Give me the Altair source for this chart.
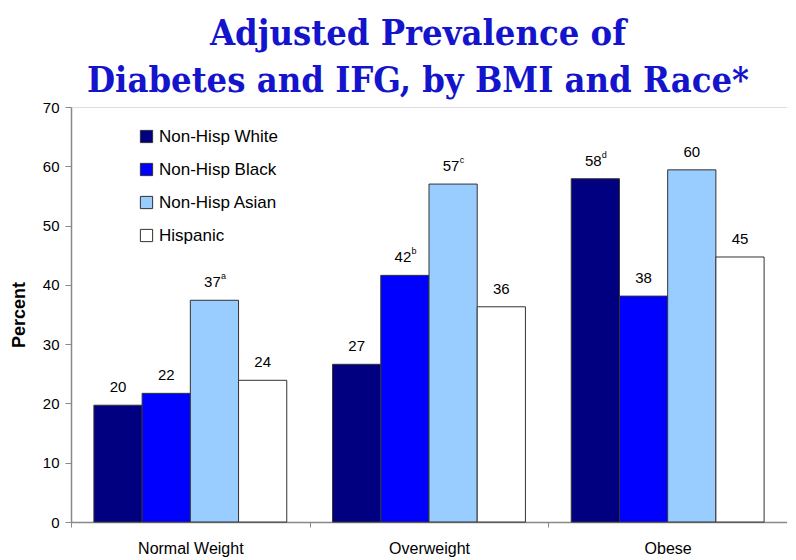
import altair as alt
import pandas as pd

categories = ["Normal Weight", "Overweight", "Obese"]
races = ["Non-Hisp White", "Non-Hisp Black", "Non-Hisp Asian", "Hispanic"]
colors = ["#000080", "#0000FF", "#99CCFF", "#FFFFFF"]

normal_vals = [19.7, 21.7, 37.4, 23.9]
over_vals = [26.6, 41.6, 57.0, 36.3]
obese_vals = [57.9, 38.1, 59.4, 44.7]

normal_labels = ["20", "22", "37", "24"]
over_labels = ["27", "42", "57", "36"]
obese_labels = ["58", "38", "60", "45"]

normal_sup = ["", "", "a", ""]
over_sup = ["", "b", "c", ""]
obese_sup = ["d", "", "", ""]

title_lines = ["Adjusted Prevalence of", "Diabetes and IFG, by BMI and Race*"]

rows = []
for cat, vals, labs, sups in [
    (categories[0], normal_vals, normal_labels, normal_sup),
    (categories[1], over_vals, over_labels, over_sup),
    (categories[2], obese_vals, obese_labels, obese_sup),
]:
    for r, v, l, s in zip(races, vals, labs, sups):
        rows.append({"bmi": cat, "race": r, "value": v, "label": l, "sup": s})
df = pd.DataFrame(rows)

W, H = 716, 415
FONT = "Liberation Sans"
TFONT = "DejaVu Serif Condensed, Liberation Serif"

x = alt.X("bmi:N", sort=categories, title=None,
          scale=alt.Scale(paddingInner=0, paddingOuter=0),
          axis=alt.Axis(labelAngle=0, labelFontSize=16, labelFont=FONT, labelColor="black",
                        labelPadding=13, tickBand="extent", tickSize=5, tickColor="#888",
                        domainColor="#888", domainWidth=1.5))
xo = alt.XOffset("race:N", sort=races, scale=alt.Scale(paddingOuter=0.475, paddingInner=0))
y = alt.Y("value:Q", title="Percent",
          scale=alt.Scale(domain=[0, 70], nice=False),
          axis=alt.Axis(values=list(range(0, 71, 10)), grid=False, labelFontSize=15,
                        labelFont=FONT, labelColor="black", labelPadding=6, tickSize=6,
                        tickColor="#888", domainColor="#888", domainWidth=1.5,
                        titleFont=FONT, titleFontSize=18, titleFontWeight="bold",
                        titleColor="black", titlePadding=14))

bars = alt.Chart(df).mark_bar(stroke="#333", strokeWidth=1).encode(
    x=x, xOffset=xo, y=y,
    color=alt.Color("race:N", sort=races, title=None,
                    scale=alt.Scale(domain=races, range=colors),
                    legend=alt.Legend(orient="none", legendX=67, legendY=21,
                                      symbolType="square", symbolSize=150,
                                      symbolStrokeColor="#333", symbolStrokeWidth=1,
                                      labelFont=FONT, labelFontSize=17, labelColor="black",
                                      labelOffset=4, rowPadding=15, padding=0)),
)

lab_plain = alt.Chart(df).transform_filter("datum.sup == ''").mark_text(
    font=FONT, fontSize=15, color="black", baseline="alphabetic", dy=-13
).encode(x=alt.X("bmi:N", sort=categories), xOffset=alt.XOffset("race:N", sort=races),
         y="value:Q", text="label:N")

lab_sup_main = alt.Chart(df).transform_filter("datum.sup != ''").mark_text(
    font=FONT, fontSize=15, color="black", baseline="alphabetic", dy=-13, dx=-2
).encode(x=alt.X("bmi:N", sort=categories), xOffset=alt.XOffset("race:N", sort=races),
         y="value:Q", text="label:N")

lab_sup = alt.Chart(df).transform_filter("datum.sup != ''").mark_text(
    font=FONT, fontSize=9, color="black", baseline="alphabetic", dy=-21, dx=9
).encode(x=alt.X("bmi:N", sort=categories), xOffset=alt.XOffset("race:N", sort=races),
         y="value:Q", text="sup:N")

t1 = alt.Chart(alt.Data(values=[{"t": title_lines[0]}])).mark_text(
    font=TFONT, fontSize=36, fontWeight="bold", color="#1414CC",
    baseline="alphabetic", align="center"
).encode(text="t:N", x=alt.value(347), y=alt.value(-62))

t2 = alt.Chart(alt.Data(values=[{"t": title_lines[1]}])).mark_text(
    font=TFONT, fontSize=36, fontWeight="bold", color="#1414CC",
    baseline="alphabetic", align="center"
).encode(text="t:N", x=alt.value(347), y=alt.value(-15))

chart = alt.layer(bars, lab_plain, lab_sup_main, lab_sup, t1, t2).properties(
    width=W, height=H,
    autosize=alt.AutoSizeParams(type="none"),
    padding={"left": 63, "top": 99, "right": 0, "bottom": 37},
).configure_view(stroke=None).configure(background="white")

chart.save("out.html", embed_options={"renderer": "svg", "actions": False})
